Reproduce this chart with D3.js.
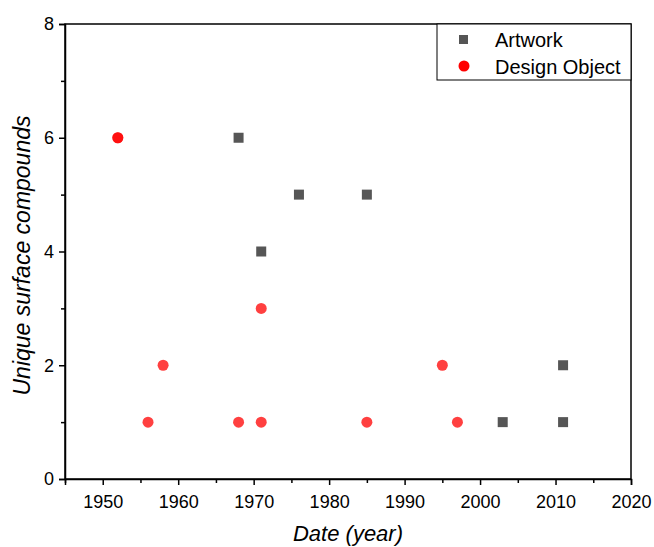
<!DOCTYPE html>
<html>
<head>
<meta charset="utf-8">
<script src="https://cdn.jsdelivr.net/npm/d3@7"></script>
<style>
  body { margin: 0; background: #fff; }
  svg { display: block; }
</style>
</head>
<body>
<div id="chart"></div>
<script>
// series values
const artworkYears  = [1968, 1971, 1976, 1985, 2003, 2011, 2011];
const artworkCounts = [6, 4, 5, 5, 1, 1, 2];
const designYears  = [1952, 1952, 1956, 1958, 1968, 1971, 1971, 1985, 1995, 1997];
const designCounts = [6, 6, 1, 2, 1, 1, 3, 1, 2, 1];
const xTicks = [1950, 1960, 1970, 1980, 1990, 2000, 2010, 2020];
const yTicks = [0, 2, 4, 6, 8];
const legendLabels = ['Artwork', 'Design Object'];

const width = 654, height = 547;
const margin = { top: 24, right: 23, bottom: 68, left: 65 };
const iw = width - margin.left - margin.right;
const ih = height - margin.top - margin.bottom;
const font = "'Liberation Sans', Arial, sans-serif";

const svg = d3.select('#chart').append('svg')
  .attr('width', width)
  .attr('height', height);

const g = svg.append('g').attr('transform', `translate(${margin.left},${margin.top})`);

const x = d3.scaleLinear().domain([1945, 2020]).range([0, iw]);
const y = d3.scaleLinear().domain([0, 8]).range([ih, 0]);

// frame
g.append('rect')
  .attr('width', iw).attr('height', ih)
  .attr('fill', 'none').attr('stroke', '#000').attr('stroke-width', 1.5);

// x axis, major + minor ticks
g.append('g').attr('transform', `translate(0,${ih})`)
  .call(d3.axisBottom(x).tickValues(xTicks).tickFormat(d3.format('d')).tickSize(6).tickPadding(10));
g.append('g').attr('transform', `translate(0,${ih})`)
  .call(d3.axisBottom(x).tickValues(d3.range(1945, 2020, 10)).tickFormat('').tickSize(4))
  .call(a => a.select('.domain').remove());

g.append('g')
  .call(d3.axisLeft(y).tickValues(yTicks).tickSize(6).tickPadding(5));
g.append('g')
  .call(d3.axisLeft(y).tickValues([1, 3, 5, 7]).tickFormat('').tickSize(4))
  .call(a => a.select('.domain').remove());

g.selectAll('.domain').attr('stroke-width', 1.5);
g.selectAll('.tick line').attr('stroke-width', 1.5);
g.selectAll('.tick text')
  .style('font-family', font).style('font-size', '18px').attr('fill', '#000');

// axis titles
svg.append('text')
  .attr('x', 348).attr('y', 541)
  .attr('text-anchor', 'middle')
  .style('font-family', font).style('font-size', '22px').style('font-style', 'italic')
  .text('Date (year)');

svg.append('text')
  .attr('transform', `translate(30,${margin.top + ih / 2 + 4}) rotate(-90)`)
  .attr('text-anchor', 'middle')
  .style('font-family', font).style('font-size', '23px').style('font-style', 'italic')
  .text('Unique surface compounds');

// points
const sq = 10;
g.append('g').selectAll('rect')
  .data(d3.zip(artworkYears, artworkCounts))
  .enter().append('rect')
  .attr('x', d => x(d[0]) - sq / 2)
  .attr('y', d => y(d[1]) - sq / 2)
  .attr('width', sq).attr('height', sq)
  .attr('fill', '#444').attr('fill-opacity', 0.9);

g.append('g').selectAll('circle')
  .data(d3.zip(designYears, designCounts))
  .enter().append('circle')
  .attr('cx', d => x(d[0]))
  .attr('cy', d => y(d[1]))
  .attr('r', 5.5)
  .attr('fill', '#f00').attr('fill-opacity', 0.75);

// legend
const lg = svg.append('g').attr('transform', `translate(437,${margin.top})`);
lg.append('rect')
  .attr('width', width - margin.right - 437).attr('height', 56)
  .attr('fill', '#fff').attr('stroke', '#000').attr('stroke-width', 1);
lg.append('rect').attr('x', 22).attr('y', 11).attr('width', 9).attr('height', 9).attr('fill', '#555');
lg.append('circle').attr('cx', 27).attr('cy', 42).attr('r', 5.5).attr('fill', '#f00');
legendLabels.forEach((t, i) => {
  lg.append('text')
    .attr('x', 58).attr('y', 23 + i * 27)
    .style('font-family', font).style('font-size', '20px')
    .text(t);
});
</script>
</body>
</html>
